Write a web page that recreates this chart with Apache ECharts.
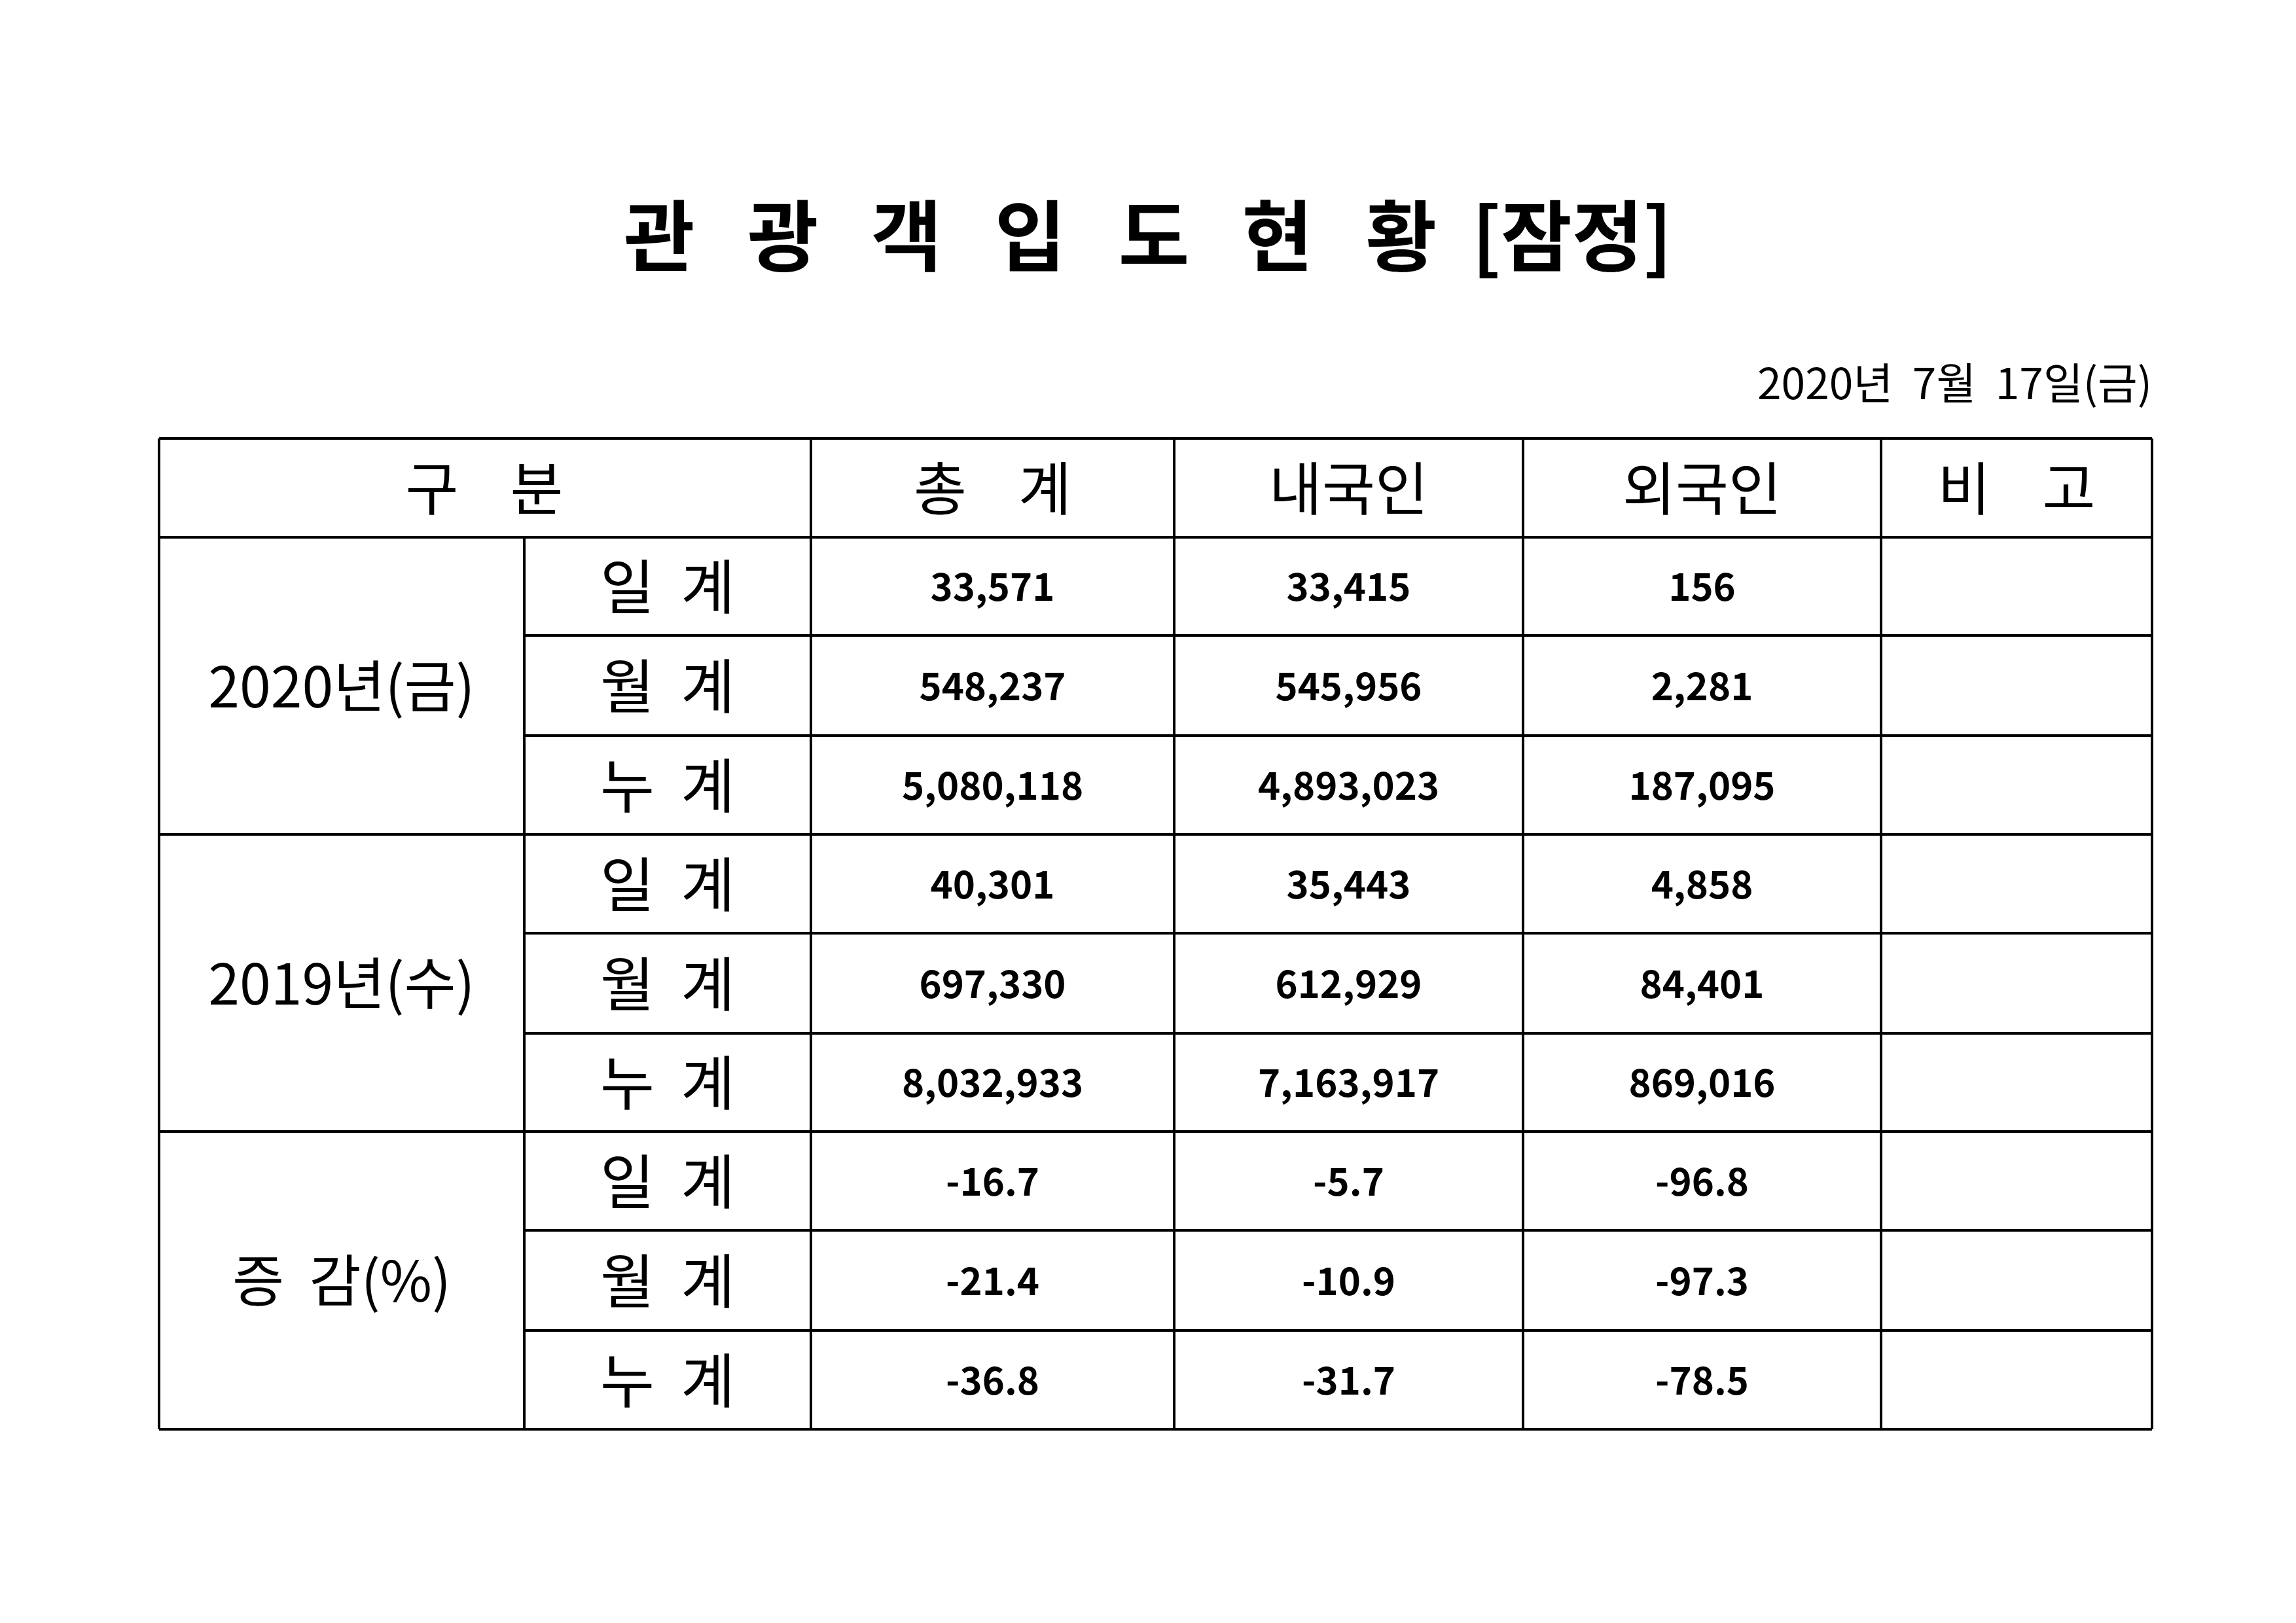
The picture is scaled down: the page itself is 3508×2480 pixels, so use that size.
<!DOCTYPE html>
<html><head><meta charset="utf-8">
<script src="https://cdn.jsdelivr.net/npm/echarts@6/dist/echarts.min.js"></script>
<style>html,body{margin:0;padding:0;background:#fff}#c{width:3508px;height:2480px}</style>
</head><body><div id="c"></div>
<script>
const title = '관   광   객   입   도   현   황  [잠정]';
const dateText = '2020년  7월  17일(금)';
const headers = ['구    분', '총    계', '내국인', '외국인', '비    고'];
const groups = ['2020년(금)', '2019년(수)', '증  감(%)'];
const subRows = ['일  계', '월  계', '누  계'];
const totalVals = ['33,571','548,237','5,080,118','40,301','697,330','8,032,933','-16.7','-21.4','-36.8'];
const domesticVals = ['33,415','545,956','4,893,023','35,443','612,929','7,163,917','-5.7','-10.9','-31.7'];
const foreignVals = ['156','2,281','187,095','4,858','84,401','869,016','-96.8','-97.3','-78.5'];

const colX = [243, 801, 1239, 1794, 2327, 2874, 3288];
const rowY = [670, 821, 971, 1124, 1275, 1426, 1579, 1729, 1880, 2033, 2184];
const F = '"Noto Sans CJK KR", "Noto Sans", sans-serif';
const g = [];
const lw = 4;
function line(x1,y1,x2,y2){g.push({type:'line',shape:{x1,y1,x2,y2},style:{stroke:'#000',lineWidth:lw}});}
function txt(x,y,t,size,weight,align){g.push({type:'text',x,y,style:{text:t,font:(weight||'normal')+' '+size+'px '+F,fill:'#000',align:align||'center',verticalAlign:'middle'}});}

txt(1754,360,title,118,'bold');
txt(3288,585,dateText,66,'normal','right');
line(colX[0],rowY[0],colX[6],rowY[0]);
line(colX[0],rowY[1],colX[6],rowY[1]);
for(let r=2;r<=10;r++){
  const x0 = (r===4||r===7||r===10)?colX[0]:colX[1];
  line(x0,rowY[r],colX[6],rowY[r]);
}
line(colX[0],rowY[0],colX[0],rowY[10]);
line(colX[1],rowY[1],colX[1],rowY[10]);
for(let c=2;c<=6;c++) line(colX[c],rowY[0],colX[c],rowY[10]);
const hy=(rowY[0]+rowY[1])/2;
txt(740,hy,headers[0],88);
for(let c=1;c<5;c++) txt((colX[c+1]+colX[c+2])/2,hy,headers[c],88);
groups.forEach((gname,i)=>{ txt((colX[0]+colX[1])/2,(rowY[1+3*i]+rowY[4+3*i])/2,gname,86); });
const cols=[totalVals,domesticVals,foreignVals];
for(let r=0;r<9;r++){
  const y=(rowY[r+1]+rowY[r+2])/2;
  txt((colX[1]+colX[2])/2,y,subRows[r%3],90);
  cols.forEach((arr,ci)=>txt((colX[ci+2]+colX[ci+3])/2,y,arr[r],58,'bold'));
}
const chart=echarts.init(document.getElementById('c'));
chart.setOption({animation:false,backgroundColor:'#fff',graphic:{elements:g}});
</script></body></html>
